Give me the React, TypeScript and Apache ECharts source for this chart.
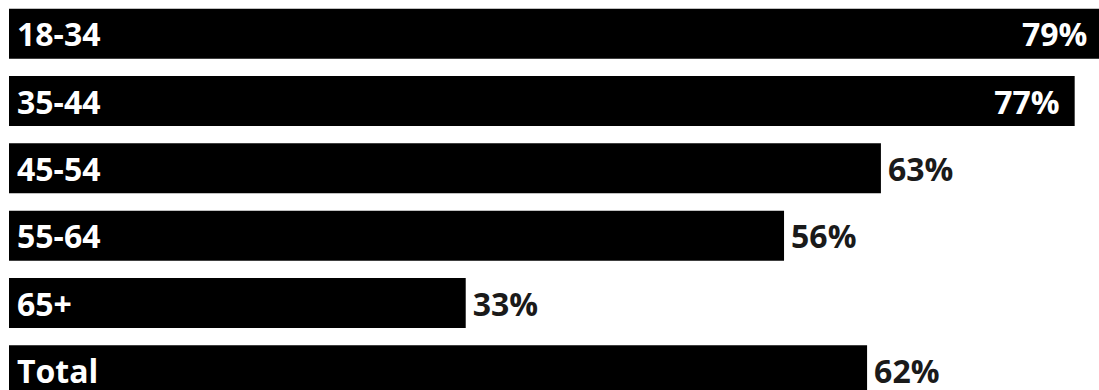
import React, { useEffect, useRef } from "react";
import * as echarts from "echarts";

const categories = ["18-34", "35-44", "45-54", "55-64", "65+", "Total"];
const values = [79, 77, 63, 56, 33, 62];
const insideThreshold = 70;

export default function App() {
  const ref = useRef<HTMLDivElement>(null);
  useEffect(() => {
    if (!ref.current) return;
    const chart = echarts.init(ref.current, undefined, { renderer: "svg" });
    const font = "'Open Sans', 'Noto Sans', sans-serif";
    chart.setOption({
      animation: false,
      grid: { left: 9, right: 0, top: 0, bottom: 0, containLabel: false },
      xAxis: { type: "value", min: 0, max: 100, show: false },
      yAxis: {
        type: "category",
        data: categories,
        inverse: true,
        z: 10,
        axisLine: { show: false },
        axisTick: { show: false },
        splitLine: { show: false },
        axisLabel: {
          inside: true,
          margin: 8,
          color: "#ffffff",
          fontFamily: font,
          fontWeight: "bold",
          fontSize: 32,
          lineHeight: 30,
        },
      },
      series: [
        {
          type: "bar",
          barWidth: 50,
          itemStyle: { color: "#000000" },
          data: values.map((v) => {
            const inside = v > insideThreshold;
            return {
              value: v,
              label: {
                show: true,
                position: inside ? "insideRight" : "right",
                distance: inside ? 15 : 7,
                color: inside ? "#ffffff" : "#1a1a1a",
                fontFamily: font,
                fontWeight: "bold",
                fontSize: 32,
                lineHeight: 30,
                formatter: "{c}%",
              },
            };
          }),
        },
      ],
    });
    return () => chart.dispose();
  }, []);
  return (
    <div
      ref={ref}
      style={{ position: "fixed", left: 0, top: -0.3, width: 1393, height: 404.2, background: "#ffffff" }}
    />
  );
}
